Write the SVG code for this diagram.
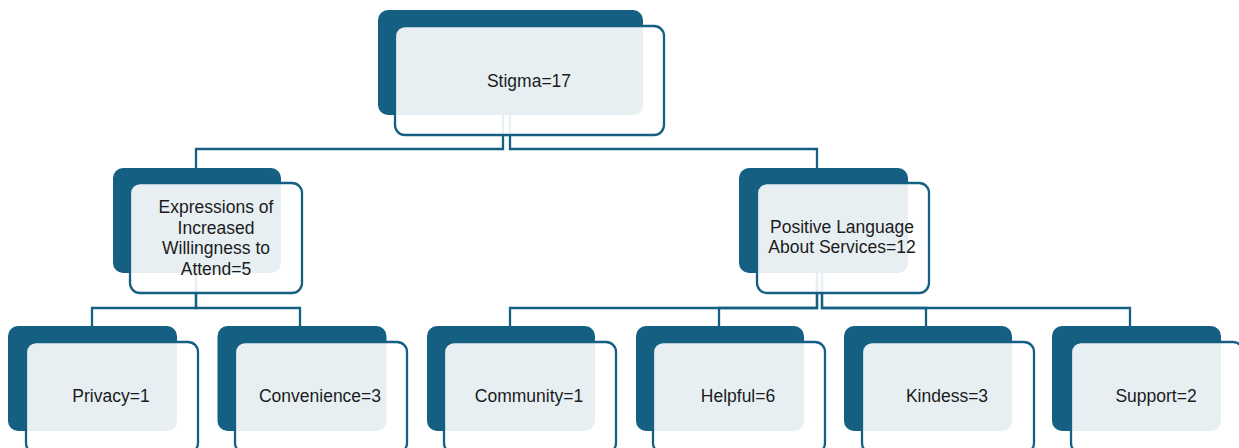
<svg xmlns="http://www.w3.org/2000/svg" width="1239" height="448" viewBox="0 0 1239 448">
<style>
.back{fill:#156082}
.front{fill:#ffffff;fill-opacity:0.9;stroke:#156082;stroke-width:2.3}
.conn{fill:none;stroke:#156082;stroke-width:2.3}
text{font-family:"Liberation Sans",Arial,sans-serif;font-size:17.5px;fill:#1b1b1b;text-anchor:middle}
</style>
<rect width="1239" height="448" fill="#ffffff"/>
<g id="connectors">
<path class="conn" d="M503,115 V149 H196 V168"/>
<path class="conn" d="M510,115 V149 H817 V168"/>
<path class="conn" d="M196,273 V308 H92 V326"/>
<path class="conn" d="M196,273 V308 H300 V326"/>
<path class="conn" d="M817,273 V308 H510 V326"/>
<path class="conn" d="M817,273 V308 H719 V326"/>
<path class="conn" d="M822,273 V308 H926 V326"/>
<path class="conn" d="M822,273 V308 H1130 V326"/>
</g>
<g id="stigma">
<rect class="back" x="378" y="10" width="265" height="105" rx="10"/>
<rect class="front" x="395" y="26" width="269" height="109" rx="10"/>
<text x="529" y="87">Stigma=17</text>
</g>
<g id="expressions">
<rect class="back" x="113" y="168" width="168" height="105" rx="10"/>
<rect class="front" x="130" y="183" width="172" height="110" rx="10"/>
<text x="216" y="213">Expressions of</text>
<text x="216" y="234">Increased</text>
<text x="216" y="254">Willingness to</text>
<text x="216" y="275">Attend=5</text>
</g>
<g id="positive">
<rect class="back" x="739" y="168" width="169" height="105" rx="10"/>
<rect class="front" x="757" y="183" width="172" height="110" rx="10"/>
<text x="842" y="233">Positive Language</text>
<text x="842" y="253">About Services=12</text>
</g>
<g id="privacy">
<rect class="back" x="8" y="326" width="169" height="105" rx="10"/>
<rect class="front" x="26" y="342" width="172" height="111" rx="10"/>
<text x="111" y="402">Privacy=1</text>
</g>
<g id="convenience">
<rect class="back" x="217.5" y="326" width="169" height="105" rx="10"/>
<rect class="front" x="235" y="342" width="172" height="111" rx="10"/>
<text x="320" y="402">Convenience=3</text>
</g>
<g id="community">
<rect class="back" x="427" y="326" width="168" height="105" rx="10"/>
<rect class="front" x="444" y="342" width="172" height="111" rx="10"/>
<text x="529" y="402">Community=1</text>
</g>
<g id="helpful">
<rect class="back" x="636" y="326" width="168" height="105" rx="10"/>
<rect class="front" x="653" y="342" width="172" height="111" rx="10"/>
<text x="738" y="402">Helpful=6</text>
</g>
<g id="kindess">
<rect class="back" x="844" y="326" width="168" height="105" rx="10"/>
<rect class="front" x="862" y="342" width="172" height="111" rx="10"/>
<text x="947" y="402">Kindess=3</text>
</g>
<g id="support">
<rect class="back" x="1052" y="326" width="169" height="105" rx="10"/>
<rect class="front" x="1071" y="342" width="172" height="111" rx="10"/>
<text x="1156" y="402">Support=2</text>
</g>
</svg>
